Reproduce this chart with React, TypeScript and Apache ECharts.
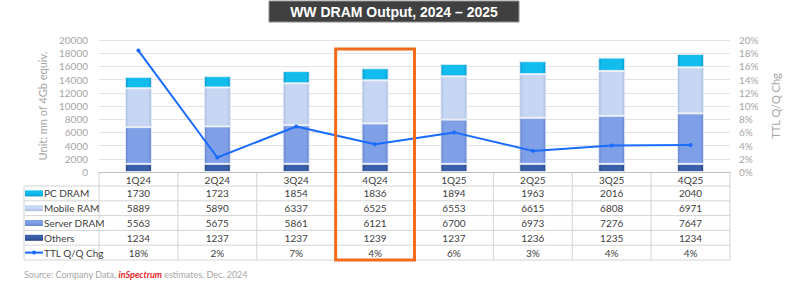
import React, { useEffect, useRef } from "react";
import * as echarts from "echarts";

const categories = ["1Q24", "2Q24", "3Q24", "4Q24", "1Q25", "2Q25", "3Q25", "4Q25"];
const pcDram = [1730, 1723, 1854, 1836, 1894, 1963, 2016, 2040];
const mobileRam = [5889, 5890, 6337, 6525, 6553, 6615, 6808, 6971];
const serverDram = [5563, 5675, 5861, 6121, 6700, 6973, 7276, 7647];
const others = [1234, 1237, 1237, 1239, 1237, 1236, 1235, 1234];
const ttlQoQ = [18.4, 2.2, 6.9, 4.2, 6.0, 3.2, 4.0, 4.1];
const highlightIndex = 3;

const W = 800;
const H = 290;
const GRID_LEFT = 99;
const GRID_RIGHT_X = 730;
const GRID_TOP = 40;
const GRID_BOTTOM_Y = 172;
const TABLE_LEFT = 24;
const HEADER_BOTTOM = 186;
const ROW_H = 14.8;
const FONT = "Lato, 'Noto Sans', sans-serif";

const seriesDefs = [
  { name: "Others", data: others, base: "#3A5FA8", edge: "#26447F" },
  { name: "Server DRAM", data: serverDram, base: "#7F9FE6", edge: "#6584CC" },
  { name: "Mobile RAM", data: mobileRam, base: "#C6D6F3", edge: "#A9BCE0" },
  { name: "PC DRAM", data: pcDram, base: "#12BDEE", edge: "#0097CC" },
];

function grad(base: string, edge: string) {
  return new echarts.graphic.LinearGradient(0, 0, 1, 0, [
    { offset: 0, color: edge },
    { offset: 0.12, color: base },
    { offset: 0.88, color: base },
    { offset: 1, color: edge },
  ]);
}

export default function App() {
  const ref = useRef<HTMLDivElement>(null);
  useEffect(() => {
    if (!ref.current) return;
    const chart = echarts.init(ref.current, undefined, { renderer: "svg" });
    const colW = (GRID_RIGHT_X - GRID_LEFT) / categories.length;
    const tableBottom = HEADER_BOTTOM + ROW_H * 5;
    const lineColor = "#D4D4D4";
    const textColor = "#404040";
    const g: any[] = [];

    // title
    g.push({
      type: "rect",
      shape: { x: 269, y: 1, width: 250, height: 21 },
      style: { fill: "#404040", stroke: "#8C8C8C", lineWidth: 1 },
    });
    g.push({
      type: "text",
      style: {
        text: "WW DRAM Output, 2024 \u2013 2025",
        x: 394,
        y: 12,
        align: "center",
        verticalAlign: "middle",
        textAlign: "center",
        textVerticalAlign: "middle",
        fill: "#FFFFFF",
        fontSize: 14,
        fontWeight: "bold",
        fontFamily: "'Liberation Sans', Arial, sans-serif",
      },
    });

    // table grid lines
    for (let k = 0; k <= categories.length; k++) {
      const x = GRID_LEFT + k * colW;
      g.push({
        type: "line",
        shape: { x1: x, y1: GRID_BOTTOM_Y, x2: x, y2: tableBottom },
        style: { stroke: lineColor, lineWidth: 1 },
      });
    }
    g.push({
      type: "line",
      shape: { x1: TABLE_LEFT, y1: HEADER_BOTTOM, x2: TABLE_LEFT, y2: tableBottom },
      style: { stroke: lineColor, lineWidth: 1 },
    });
    for (let r = 0; r <= 5; r++) {
      const y = HEADER_BOTTOM + r * ROW_H;
      g.push({
        type: "line",
        shape: { x1: TABLE_LEFT, y1: y, x2: GRID_RIGHT_X, y2: y },
        style: { stroke: lineColor, lineWidth: 1 },
      });
    }

    // table rows
    const rows: { name: string; values: string[]; icon: any }[] = [
      { name: "PC DRAM", values: pcDram.map(String), icon: seriesDefs[3] },
      { name: "Mobile RAM", values: mobileRam.map(String), icon: seriesDefs[2] },
      { name: "Server DRAM", values: serverDram.map(String), icon: seriesDefs[1] },
      { name: "Others", values: others.map(String), icon: seriesDefs[0] },
      { name: "TTL Q/Q Chg", values: ttlQoQ.map((v) => Math.round(v) + "%"), icon: null },
    ];
    rows.forEach((row, r) => {
      const cy = HEADER_BOTTOM + (r + 0.5) * ROW_H;
      if (row.icon) {
        g.push({
          type: "rect",
          shape: { x: 25, y: cy - 3, width: 18, height: 6 },
          style: {
            fill: new echarts.graphic.LinearGradient(0, 0, 0, 1, [
              { offset: 0, color: row.icon.base },
              { offset: 0.5, color: row.icon.base },
              { offset: 1, color: row.icon.edge },
            ]),
          },
        });
      } else {
        g.push({
          type: "line",
          shape: { x1: 25, y1: cy, x2: 43, y2: cy },
          style: { stroke: "#1A6BFF", lineWidth: 2 },
        });
        g.push({
          type: "circle",
          shape: { cx: 34, cy, r: 2 },
          style: { fill: "#1A6BFF" },
        });
      }
      g.push({
        type: "text",
        style: {
          text: row.name,
          x: 44,
          y: cy,
          align: "left",
          verticalAlign: "middle",
          textAlign: "left",
          textVerticalAlign: "middle",
          fill: textColor,
          fontSize: 10,
          fontFamily: FONT,
        },
      });
      row.values.forEach((v, i) => {
        g.push({
          type: "text",
          style: {
            text: v,
            x: GRID_LEFT + (i + 0.5) * colW,
            y: cy,
            align: "center",
            verticalAlign: "middle",
            textAlign: "center",
            textVerticalAlign: "middle",
            fill: textColor,
            fontSize: 10,
            fontFamily: FONT,
          },
        });
      });
    });

    // highlight box
    g.push({
      type: "rect",
      shape: {
        x: GRID_LEFT + highlightIndex * colW,
        y: 49,
        width: colW,
        height: tableBottom - 49,
      },
      style: { fill: "none", stroke: "#F46B1C", lineWidth: 3 },
      z: 100,
    });

    // source
    g.push({
      type: "text",
      style: {
        text: "{a|Source: Company Data, }{b|inSpectrum}{a| estimates, Dec. 2024}",
        x: 24,
        y: 274,
        verticalAlign: "middle",
        textVerticalAlign: "middle",
        rich: {
          a: { fill: "#A6A6A6", color: "#A6A6A6", fontSize: 9, fontFamily: FONT },
          b: {
            fill: "#E8252B",
            color: "#E8252B",
            fontSize: 9,
            fontFamily: FONT,
            fontWeight: "bold",
            fontStyle: "italic",
          },
        },
      },
    });

    const option: any = {
      animation: false,
      backgroundColor: "#FFFFFF",
      grid: {
        left: GRID_LEFT,
        right: W - GRID_RIGHT_X,
        top: GRID_TOP,
        bottom: H - GRID_BOTTOM_Y,
        containLabel: false,
      },
      xAxis: {
        type: "category",
        data: categories,
        axisLine: { lineStyle: { color: "#BFBFBF", width: 1 } },
        axisTick: { show: false },
        axisLabel: { color: textColor, fontSize: 10, fontFamily: FONT, margin: 3 },
      },
      yAxis: [
        {
          type: "value",
          min: 0,
          max: 20000,
          interval: 2000,
          name: "Unit: mn of 4Gb equiv.",
          nameLocation: "middle",
          nameRotate: 90,
          nameGap: 50,
          nameTextStyle: { color: "#A6A6A6", fontSize: 11, fontFamily: FONT },
          axisLine: { show: false },
          axisTick: { show: false },
          axisLabel: {
            color: "#A6A6A6",
            fontSize: 10,
            fontFamily: FONT,
            margin: 11,
            formatter: (v: number) => String(v),
          },
          splitLine: { lineStyle: { color: "#E2E2E2", width: 1 } },
        },
        {
          type: "value",
          min: 0,
          max: 20,
          interval: 2,
          name: "TTL Q/Q Chg",
          nameLocation: "middle",
          nameRotate: 90,
          nameGap: 40,
          nameTextStyle: { color: "#A6A6A6", fontSize: 11, fontFamily: FONT },
          axisLine: { show: false },
          axisTick: { show: false },
          axisLabel: {
            color: "#A6A6A6",
            fontSize: 10,
            fontFamily: FONT,
            margin: 9,
            formatter: "{value}%",
          },
          splitLine: { show: false },
        },
      ],
      series: [
        ...seriesDefs.map((s) => ({
          name: s.name,
          type: "bar",
          stack: "total",
          barWidth: 27,
          data: s.data,
          itemStyle: {
            color: grad(s.base, s.edge),
            borderColor: "rgba(235,240,250,0.9)",
            borderWidth: 1,
          },
        })),
        {
          name: "TTL Q/Q Chg",
          type: "line",
          yAxisIndex: 1,
          data: ttlQoQ,
          symbol: "circle",
          symbolSize: 4,
          lineStyle: { color: "#1A6BFF", width: 2 },
          itemStyle: { color: "#1A6BFF" },
          z: 10,
        },
      ],
      graphic: g,
    };
    chart.setOption(option);
    return () => chart.dispose();
  }, []);
  return (
    <div
      ref={ref}
      style={{ position: "fixed", left: 0, top: 0, width: W, height: H, background: "#fff" }}
    />
  );
}
